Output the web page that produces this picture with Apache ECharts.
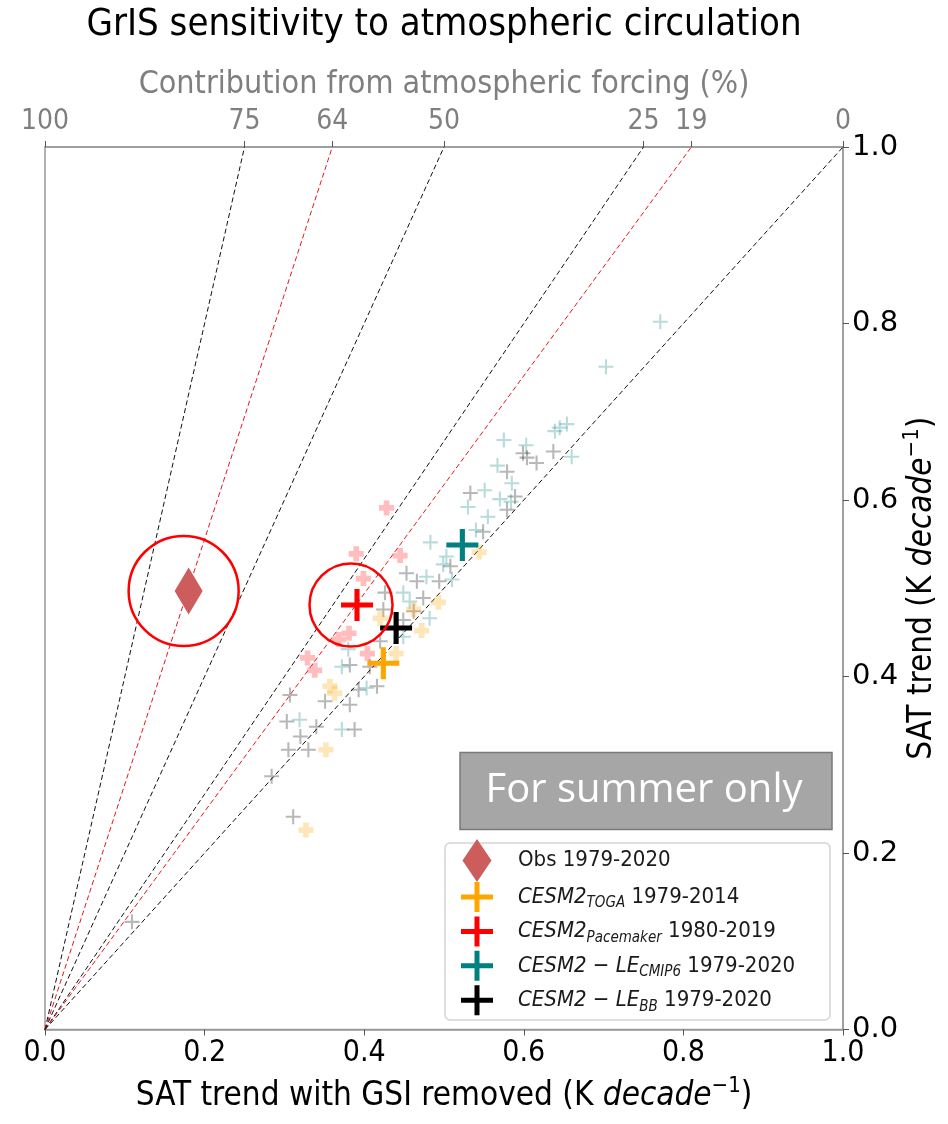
<!DOCTYPE html>
<html><head><meta charset="utf-8">
<script src="https://cdn.jsdelivr.net/npm/echarts@6/dist/echarts.min.js"></script>
<style>html,body{margin:0;padding:0;background:#fff}#c{width:948px;height:1124px}</style>
</head><body><div id="c"></div>
<script>
// ---------------- data ----------------
const obsPoint = [[0.180, 0.497]];
const togaMean = [[0.424, 0.415]];
const paceMean = [[0.391, 0.481]];
const cmip6Mean = [[0.523, 0.549]];
const bbMean = [[0.440, 0.455]];

const paceMembers = [[0.428,0.591],[0.390,0.539],[0.445,0.537],[0.399,0.511],[0.381,0.449],[0.368,0.442],[0.404,0.426],[0.329,0.421],[0.338,0.407]];
const togaMembers = [[0.544,0.541],[0.493,0.484],[0.472,0.452],[0.420,0.466],[0.440,0.426],[0.462,0.476],[0.357,0.389],[0.363,0.381],[0.352,0.317],[0.327,0.226]];
const bbMembers = [[0.637,0.655],[0.599,0.653],[0.604,0.648],[0.616,0.642],[0.579,0.632],[0.533,0.608],[0.589,0.604],[0.579,0.589],[0.549,0.564],[0.508,0.525],[0.494,0.508],[0.453,0.517],[0.466,0.508],[0.474,0.489],[0.426,0.495],[0.424,0.476],[0.462,0.474],[0.449,0.464],[0.420,0.440],[0.382,0.413],[0.407,0.411],[0.393,0.385],[0.416,0.389],[0.351,0.372],[0.382,0.368],[0.307,0.379],[0.303,0.349],[0.320,0.332],[0.340,0.343],[0.388,0.340],[0.305,0.317],[0.330,0.317],[0.284,0.287],[0.311,0.241],[0.109,0.122]];
const cmip6Members = [[0.771,0.802],[0.703,0.751],[0.645,0.682],[0.654,0.686],[0.639,0.678],[0.660,0.649],[0.603,0.662],[0.575,0.668],[0.567,0.639],[0.585,0.619],[0.551,0.611],[0.530,0.592],[0.570,0.601],[0.584,0.598],[0.555,0.581],[0.540,0.566],[0.503,0.536],[0.483,0.552],[0.499,0.527],[0.510,0.510],[0.478,0.513],[0.449,0.495],[0.457,0.485],[0.482,0.466],[0.449,0.445],[0.380,0.431],[0.372,0.411],[0.403,0.387],[0.319,0.351],[0.372,0.340]];

const contributionTicks = [100, 75, 64, 50, 25, 19, 0];
const referenceLines = [75, 64, 50, 25, 19, 0];
const highlightedLines = [64, 19];

const legendNames = ['Obs', 'TOGA', 'Pacemaker', 'CMIP6', 'BB'];
const legendLabels = {
  'Obs': 'Obs 1979-2020',
  'TOGA': '{i|CESM2}{s|TOGA}{n| 1979-2014}',
  'Pacemaker': '{i|CESM2}{s|Pacemaker}{n| 1980-2019}',
  'CMIP6': '{i|CESM2}{n| − }{i|LE}{s|CMIP6}{n| 1979-2020}',
  'BB': '{i|CESM2}{n| − }{i|LE}{s|BB}{n| 1979-2020}'
};

// ---------------- styling ----------------
const COND = "'DejaVu Sans Condensed', 'DejaVu Sans', sans-serif";
const REG = "'DejaVu Sans', sans-serif";
const AX = '#999999';
function plus(t) {
  const a = (100 - t) / 2, b = (100 + t) / 2;
  return `path://M${a},0 H${b} V${a} H100 V${b} H${b} V100 H${a} V${b} H0 V${a} H${a} Z`;
}
const thinPlus = plus(14), fatPlus = plus(38), bigPlus = plus(16);
const legendDiamond = 'path://M0,0 M52,43 M16,0 L30.5,21.5 L16,43 L1.5,21.5 Z';
const legendCross = 'path://M0,0 M52,30 M13.5,0 H18.5 V12.5 H32 V17.5 H18.5 V30 H13.5 V17.5 H0 V12.5 H13.5 Z';

const legendText = {
  fontFamily: COND, fontSize: 22, color: '#1a1a1a', lineHeight: 28,
  rich: {
    n: {fontFamily: COND, fontSize: 22, color: '#1a1a1a', lineHeight: 28},
    i: {fontFamily: COND, fontSize: 22, color: '#1a1a1a', fontStyle: 'italic', lineHeight: 28},
    s: {fontFamily: COND, fontSize: 15, color: '#1a1a1a', fontStyle: 'italic', lineHeight: 17, verticalAlign: 'bottom'}
  }
};

const series = [];
referenceLines.forEach(p => {
  series.push({
    type: 'line', silent: true, symbol: 'none', z: 2,
    data: [[0, 0], [(100 - p) / 100, 1]],
    lineStyle: {color: highlightedLines.includes(p) ? '#e8141c' : '#111', width: 1, type: [5, 3]}
  });
});
series.push({type: 'scatter', name: 'bbM', data: bbMembers, symbol: thinPlus, symbolSize: 15, silent: true, z: 3, itemStyle: {color: '#000', opacity: 0.28}});
series.push({type: 'scatter', name: 'cmipM', data: cmip6Members, symbol: thinPlus, symbolSize: 15, silent: true, z: 3, itemStyle: {color: '#008080', opacity: 0.28}});
series.push({type: 'scatter', name: 'paceM', data: paceMembers, symbol: fatPlus, symbolSize: 15, silent: true, z: 3, itemStyle: {color: '#ff0000', opacity: 0.26}});
series.push({type: 'scatter', name: 'togaM', data: togaMembers, symbol: fatPlus, symbolSize: 15, silent: true, z: 3, itemStyle: {color: '#ffa500', opacity: 0.28}});

series.push({type: 'scatter', name: 'Obs', data: obsPoint, symbol: 'diamond', symbolSize: [28, 47], z: 5, itemStyle: {color: '#cd5c5c', opacity: 1}});
series.push({type: 'scatter', name: 'TOGA', data: togaMean, symbol: bigPlus, symbolSize: 32, z: 5, itemStyle: {color: '#ffa500', opacity: 1}});
series.push({type: 'scatter', name: 'Pacemaker', data: paceMean, symbol: bigPlus, symbolSize: 32, z: 5, itemStyle: {color: '#ff0000', opacity: 1}});
series.push({type: 'scatter', name: 'CMIP6', data: cmip6Mean, symbol: bigPlus, symbolSize: 32, z: 5, itemStyle: {color: '#008080', opacity: 1}});
series.push({type: 'scatter', name: 'BB', data: bbMean, symbol: bigPlus, symbolSize: 32, z: 5, itemStyle: {color: '#000000', opacity: 1}});

series.push({type: 'scatter', data: obsPoint, symbol: 'circle', symbolSize: 110, symbolOffset: [-5, 0], silent: true, z: 6,
  itemStyle: {color: 'rgba(0,0,0,0)', borderColor: '#ff0000', borderWidth: 2.5, opacity: 1}});
series.push({type: 'scatter', data: paceMean, symbol: 'circle', symbolSize: 83, symbolOffset: [-6, 0], silent: true, z: 6,
  itemStyle: {color: 'rgba(0,0,0,0)', borderColor: '#ff0000', borderWidth: 2.5, opacity: 1}});

const nameRich = {
  i: {fontFamily: COND, fontSize: 33, fontStyle: 'italic', color: '#000', lineHeight: 42},
  sup: {fontFamily: COND, fontSize: 22, color: '#000', lineHeight: 27, verticalAlign: 'top'}
};

const option = {
  animation: false,
  backgroundColor: '#fff',
  title: {
    text: 'GrIS sensitivity to atmospheric circulation',
    left: 439, top: 1, textAlign: 'center',
    textStyle: {fontFamily: COND, fontSize: 38, fontWeight: 'normal', color: '#000'}
  },
  grid: {left: 45, right: 105, top: 147, bottom: 94.5, containLabel: false, outerBoundsMode: 'none',
    show: true, borderColor: AX, borderWidth: 1.5, backgroundColor: 'rgba(0,0,0,0)'},
  xAxis: [{
    type: 'value', position: 'bottom', min: 0, max: 1, interval: 0.2,
    axisLine: {show: true, onZero: false, lineStyle: {color: AX, width: 1.5}},
    axisTick: {show: true, length: 6, lineStyle: {color: '#555'}},
    axisLabel: {fontFamily: COND, fontSize: 30, color: '#000', margin: 9, showMinLabel: true, showMaxLabel: true, formatter: v => v.toFixed(1)},
    splitLine: {show: false},
    name: 'SAT trend with GSI removed (K {i|decade}{sup|−1})',
    nameLocation: 'middle', nameGap: 46, nameMoveOverlap: false,
    nameTextStyle: {fontFamily: COND, fontSize: 33, color: '#000', lineHeight: 42, rich: nameRich}
  }, {
    type: 'value', position: 'top', min: 0, max: 100, inverse: true,
    axisLine: {show: true, onZero: false, lineStyle: {color: AX, width: 1.5}},
    axisTick: {show: true, length: 6, customValues: contributionTicks, lineStyle: {color: '#555'}},
    axisLabel: {customValues: contributionTicks, fontFamily: COND, fontSize: 28, color: '#7f7f7f', margin: 11},
    splitLine: {show: false},
    name: 'Contribution from atmospheric forcing (%)',
    nameLocation: 'middle', nameGap: 46, nameMoveOverlap: false,
    nameTextStyle: {fontFamily: COND, fontSize: 32, color: '#7f7f7f'}
  }],
  yAxis: [{
    type: 'value', position: 'right', min: 0, max: 1, interval: 0.2,
    axisLine: {show: true, onZero: false, lineStyle: {color: AX, width: 1.5}},
    axisTick: {show: true, length: 6, lineStyle: {color: '#555'}},
    axisLabel: {fontFamily: REG, fontSize: 29, color: '#000', margin: 9, showMinLabel: true, showMaxLabel: true, formatter: v => v.toFixed(1)},
    splitLine: {show: false},
    name: 'SAT trend (K {i|decade}{sup|−1})',
    nameLocation: 'middle', nameRotate: 90, nameGap: 58, nameMoveOverlap: false,
    nameTextStyle: {fontFamily: COND, fontSize: 33, color: '#000', lineHeight: 42, rich: nameRich}
  }],
  legend: [{
    data: [{name: 'Obs', icon: legendDiamond}],
    left: 456, top: 834, itemWidth: 52, itemHeight: 43, itemGap: 0,
    selectedMode: false, formatter: n => legendLabels[n], textStyle: legendText
  }, {
    data: legendNames.slice(1).map(n => ({name: n, icon: legendCross})),
    orient: 'vertical', left: 456, top: 877, itemWidth: 52, itemHeight: 30, itemGap: 4.4,
    selectedMode: false, formatter: n => legendLabels[n], textStyle: legendText
  }],
  graphic: [
    {type: 'rect', z: 1, shape: {x: 445, y: 843, width: 385, height: 177, r: 5},
     style: {fill: 'rgba(255,255,255,0.85)', stroke: '#d4d4d4', lineWidth: 1.5}},
    {type: 'rect', z: 1, shape: {x: 460, y: 752.5, width: 372, height: 77},
     style: {fill: '#a6a6a6', stroke: '#7a7a7a', lineWidth: 1.5}},
    {type: 'text', z: 2, x: 644, y: 791,
     style: {text: 'For summer only', fill: '#fff', font: "40px 'Open Sans', Lato, sans-serif", textAlign: 'center', textVerticalAlign: 'middle'}}
  ],
  series: series
};

const chart = echarts.init(document.getElementById('c'), null, {renderer: 'canvas'});
chart.setOption(option);
</script>
</body></html>
